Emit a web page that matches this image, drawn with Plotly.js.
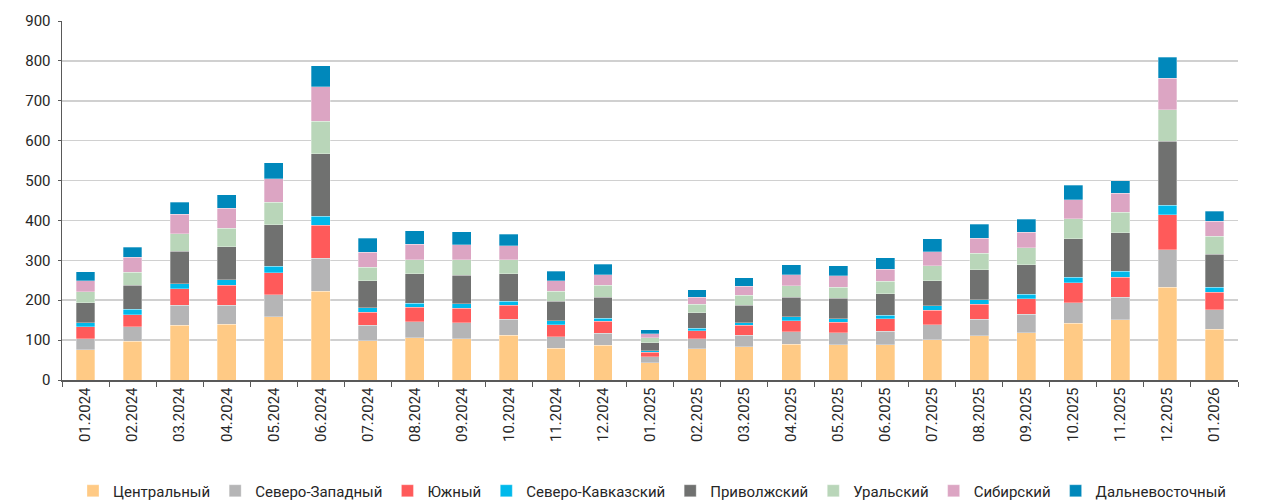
<!DOCTYPE html>
<html>
<head>
<meta charset="utf-8">
<script src="https://cdn.plot.ly/plotly-3.0.1.min.js"></script>
<style>
  html, body { margin: 0; padding: 0; background: #fff; }
  #chart { width: 1267px; height: 500px; }
</style>
</head>
<body>
<div id="chart"></div>
<script>
// месяцы
const months = ["01.2024", "02.2024", "03.2024", "04.2024", "05.2024", "06.2024", "07.2024", "08.2024",
  "09.2024", "10.2024", "11.2024", "12.2024", "01.2025", "02.2025", "03.2025", "04.2025", "05.2025",
  "06.2025", "07.2025", "08.2025", "09.2025", "10.2025", "11.2025", "12.2025", "01.2026"];

// значения по округам (снизу вверх)
const central   = [76, 97, 137, 140, 158, 223, 99, 106, 103, 112, 80, 87, 43, 78, 83, 90, 88, 88, 101, 111, 118, 142, 151, 233, 127];
const northWest = [27, 36, 51, 48, 56, 82, 38, 40, 40, 40, 29, 30, 15, 25, 29, 31, 30, 34, 37, 41, 47, 52, 57, 93, 49];
const south     = [31, 31, 41, 49, 55, 83, 33, 36, 37, 35, 29, 30, 11, 20, 25, 28, 27, 31, 37, 38, 39, 50, 50, 88, 44];
const northCauc = [9, 14, 12, 14, 16, 22, 11, 11, 11, 10, 10, 8, 4, 7, 7, 9, 8, 9, 11, 11, 11, 14, 15, 24, 12];
const volga     = [51, 59, 82, 83, 104, 157, 68, 73, 72, 69, 49, 53, 21, 38, 44, 50, 52, 54, 63, 75, 74, 96, 96, 161, 83];
const ural      = [27, 33, 44, 47, 56, 82, 34, 36, 38, 36, 26, 30, 12, 22, 24, 28, 27, 32, 37, 42, 42, 50, 51, 79, 45];
const siberia   = [28, 38, 49, 50, 60, 86, 37, 38, 38, 35, 26, 26, 10, 18, 23, 28, 29, 30, 35, 37, 40, 48, 48, 78, 38];
const farEast   = [22, 25, 30, 34, 40, 53, 35, 34, 33, 29, 24, 26, 10, 18, 21, 25, 25, 29, 33, 36, 32, 36, 31, 53, 25];

const names = ["Центральный", "Северо-Западный", "Южный", "Северо-Кавказский", "Приволжский", "Уральский", "Сибирский", "Дальневосточный"];
const series = [central, northWest, south, northCauc, volga, ural, siberia, farEast];
const colors = ["#FFCA85", "#B5B5B6", "#FF5A5A", "#00B9EB", "#707170", "#B9D6B9", "#DCA5C3", "#0088BB"];

// собираем трейсы
const traces = series.map(function(vals, i) {
  return {
    type: "bar",
    name: names[i],
    x: months,
    y: vals,
    marker: { color: colors[i], line: { color: "rgba(255,255,255,0.6)", width: 0.5 } },
    hoverinfo: "x+y+name"
  };
});

const layout = {
  barmode: "stack",
  bargap: 0.6,
  width: 1267,
  height: 500,
  margin: { l: 62, r: 29, t: 21, b: 120 },
  paper_bgcolor: "#fff",
  plot_bgcolor: "#fff",
  font: { family: "Roboto, sans-serif", size: 15, color: "#262626" },
  showlegend: true,
  legend: {
    orientation: "h",
    xref: "container", x: 0.515, xanchor: "center",
    yref: "container", y: 0.018, yanchor: "middle",
    font: { size: 15, color: "#262626" },
    traceorder: "normal",
    itemwidth: 30,
    itemclick: false
  },
  xaxis: {
    type: "category",
    tickangle: -90,
    showline: true,
    linecolor: "#595959",
    linewidth: 1.5,
    ticks: "outside",
    tickson: "boundaries",
    ticklen: 5,
    tickcolor: "#595959",
    showgrid: false,
    tickfont: { size: 15 }
  },
  yaxis: {
    range: [0, 900],
    dtick: 100,
    showline: true,
    linecolor: "#595959",
    linewidth: 1.5,
    ticks: "outside",
    ticklen: 3,
    tickcolor: "#595959",
    gridcolor: "#D0D0D0",
    gridwidth: 1.5,
    zeroline: false,
    ticklabelstandoff: 4,
    tickfont: { size: 15 }
  }
};

Plotly.newPlot("chart", traces, layout, { displayModeBar: false, staticPlot: true });
</script>
</body>
</html>
